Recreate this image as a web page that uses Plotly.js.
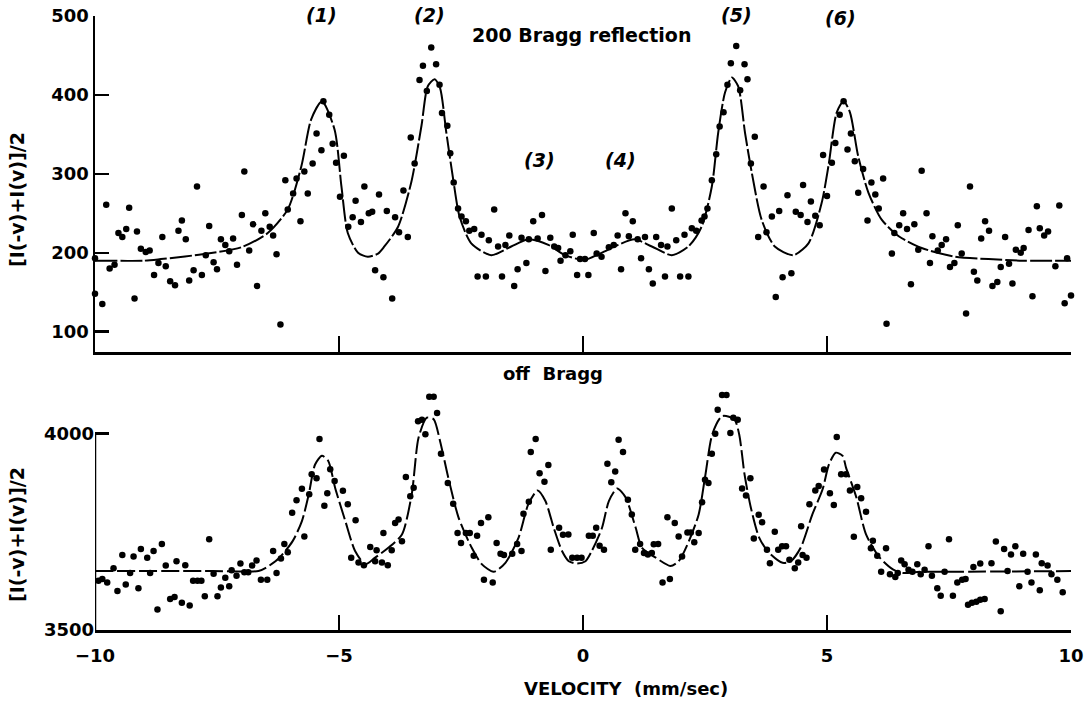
<!DOCTYPE html>
<html>
<head>
<meta charset="utf-8">
<script src="https://cdn.plot.ly/plotly-3.0.1.min.js"></script>
<style>html,body{margin:0;padding:0;background:#fff;}#chart{width:1090px;height:701px;}</style>
</head>
<body>
<div id="chart"></div>
<script>
// ---- Top panel: 200 Bragg reflection (measured points) ----
const braggVel = [-10.0,-10.0,-9.85,-9.77,-9.7,-9.6,-9.52,-9.44,-9.36,-9.3,-9.19,-9.14,-9.06,-8.96,-8.88,-8.79,-8.70,-8.62,-8.55,-8.46,-8.36,-8.29,-8.22,-8.14,-8.07,-7.98,-7.91,-7.81,-7.73,-7.66,-7.57,-7.50,-7.42,-7.33,-7.25,-7.17,-7.09,-6.99,-6.94,-6.84,-6.76,-6.68,-6.59,-6.51,-6.42,-6.35,-6.28,-6.20,-6.10,-6.05,-5.94,-5.87,-5.79,-5.71,-5.64,-5.54,-5.46,-5.36,-5.32,-5.20,-5.13,-5.06,-4.98,-4.90,-4.81,-4.72,-4.66,-4.55,-4.48,-4.39,-4.32,-4.26,-4.18,-4.09,-4.02,-3.91,-3.85,-3.77,-3.68,-3.59,-3.53,-3.45,-3.35,-3.28,-3.20,-3.11,-3.01,-2.94,-2.89,-2.78,-2.72,-2.65,-2.56,-2.49,-2.40,-2.33,-2.23,-2.16,-2.08,-1.99,-1.93,-1.82,-1.74,-1.66,-1.59,-1.51,-1.41,-1.34,-1.26,-1.16,-1.11,-1.02,-0.93,-0.84,-0.77,-0.67,-0.59,-0.51,-0.46,-0.36,-0.26,-0.21,-0.12,-0.06,0.04,0.11,0.22,0.28,0.38,0.53,0.63,0.71,0.78,0.87,0.94,1.02,1.12,1.19,1.27,1.35,1.43,1.50,1.60,1.68,1.73,1.82,1.91,1.99,2.08,2.16,2.23,2.32,2.43,2.49,2.55,2.64,2.73,2.80,2.88,2.96,3.03,3.14,3.22,3.31,3.37,3.44,3.52,3.59,3.70,3.76,3.87,3.95,4.02,4.09,4.19,4.27,4.36,4.46,4.51,4.60,4.67,4.76,4.85,4.92,5.00,5.10,5.17,5.26,5.34,5.42,5.49,5.57,5.64,5.74,5.83,5.91,5.99,6.06,6.15,6.22,6.33,6.38,6.48,6.56,6.64,6.72,6.79,6.87,6.94,7.04,7.11,7.16,7.27,7.35,7.44,7.52,7.61,7.68,7.76,7.85,7.93,8.01,8.08,8.16,8.24,8.32,8.39,8.49,8.56,8.65,8.73,8.80,8.87,8.97,9.03,9.13,9.21,9.30,9.36,9.45,9.53,9.68,9.76,9.87,9.92,10.0];
const braggCounts = [193,148,135,261,180,185,225,220,230,257,142,227,205,201,203,172,187,220,183,164,159,228,241,217,165,178,284,172,197,234,188,179,217,210,202,218,185,248,303,203,236,158,228,250,233,222,198,109,292,255,275,294,240,303,275,313,351,330,392,375,338,314,271,323,233,245,266,239,284,250,252,178,274,169,253,142,245,226,279,220,346,313,419,437,405,460,439,413,377,361,326,289,256,246,240,228,230,170,223,170,216,255,208,170,210,222,158,179,219,187,217,240,218,248,177,219,208,206,190,197,202,223,172,192,192,172,225,199,195,207,210,222,179,250,221,240,217,193,220,179,161,220,210,170,208,256,216,170,223,170,231,228,241,246,256,292,325,360,378,413,440,462,406,439,420,313,347,220,284,226,246,144,253,169,273,174,252,248,286,239,265,247,235,324,272,314,339,375,392,331,351,316,276,306,241,289,274,256,294,110,199,225,235,250,230,160,236,204,304,250,187,221,203,210,217,182,187,235,199,123,284,176,165,218,240,228,158,163,182,220,186,161,204,200,206,229,145,259,231,222,227,183,260,136,193,146];

// ---- Top panel: fitted curve ----
const braggFitVel = [-10,-9,-8.65,-7.69,-7.0,-6.46,-6.05,-5.77,-5.57,-5.35,-5.09,-4.95,-4.82,-4.61,-4.41,-4.2,-4.07,-3.79,-3.52,-3.31,-3.18,-3.04,-2.93,-2.80,-2.66,-2.53,-2.29,-1.88,-1.47,-1.12,-0.71,-0.37,0.03,0.38,0.72,1.06,1.41,1.82,2.16,2.43,2.64,2.77,2.91,3.05,3.18,3.32,3.46,3.66,3.93,4.31,4.62,4.89,5.03,5.20,5.34,5.47,5.64,5.85,6.12,6.47,6.94,7.63,8.31,9.01,10];
const braggFit = [190,190,192,199,207,225,255,310,369,392,356,284,225,200,195,199,208,233,289,361,411,420,409,352,293,246,212,197,208,217,210,197,191,200,210,217,208,197,208,233,284,352,403,422,411,352,301,242,208,197,212,263,310,378,392,378,322,276,242,221,206,195,192,190,190];

// ---- Bottom panel: off Bragg (measured points) ----
const offVel = [-10.03,-9.93,-9.85,-9.75,-9.62,-9.54,-9.44,-9.37,-9.28,-9.21,-9.11,-9.06,-8.93,-8.87,-8.80,-8.72,-8.63,-8.55,-8.46,-8.37,-8.33,-8.22,-8.15,-8.06,-7.99,-7.90,-7.82,-7.75,-7.66,-7.57,-7.49,-7.42,-7.33,-7.25,-7.20,-7.10,-7.02,-6.94,-6.86,-6.78,-6.69,-6.60,-6.47,-6.35,-6.28,-6.19,-6.12,-6.05,-5.96,-5.87,-5.76,-5.71,-5.61,-5.56,-5.46,-5.40,-5.30,-5.24,-5.18,-5.09,-4.92,-4.82,-4.75,-4.66,-4.60,-4.49,-4.36,-4.26,-4.23,-4.12,-4.09,-4.00,-3.92,-3.85,-3.78,-3.71,-3.63,-3.54,-3.47,-3.38,-3.30,-3.23,-3.15,-3.06,-2.99,-2.91,-2.77,-2.66,-2.57,-2.50,-2.40,-2.32,-2.24,-2.17,-2.09,-2.03,-1.94,-1.85,-1.77,-1.69,-1.62,-1.45,-1.35,-1.26,-1.22,-1.11,-1.07,-0.97,-0.89,-0.79,-0.71,-0.66,-0.49,-0.41,-0.30,-0.22,-0.12,-0.03,0.12,0.20,0.27,0.34,0.43,0.50,0.58,0.66,0.73,0.82,0.92,1.00,1.07,1.17,1.25,1.33,1.41,1.45,1.54,1.63,1.73,1.78,1.88,1.96,2.03,2.14,2.21,2.28,2.37,2.44,2.50,2.57,2.64,2.71,2.76,2.85,2.94,3.02,3.08,3.17,3.26,3.34,3.43,3.50,3.60,3.67,3.77,3.83,3.93,4.00,4.08,4.16,4.23,4.34,4.41,4.47,4.50,4.58,4.64,4.76,4.83,4.94,5.06,5.14,5.20,5.29,5.39,5.47,5.55,5.62,5.70,5.80,5.90,5.94,6.03,6.11,6.21,6.29,6.40,6.45,6.52,6.59,6.67,6.75,6.85,6.92,7.00,7.08,7.15,7.26,7.33,7.41,7.50,7.58,7.67,7.77,7.84,7.89,7.97,8.00,8.06,8.14,8.14,8.23,8.37,8.46,8.56,8.63,8.70,8.77,8.86,8.94,9.02,9.11,9.19,9.28,9.36,9.40,9.52,9.60,9.72,9.83];
const offCounts = [3593,3625,3630,3621,3657,3599,3691,3616,3645,3687,3606,3706,3684,3645,3701,3552,3719,3664,3579,3584,3675,3569,3665,3562,3625,3625,3625,3586,3731,3643,3586,3608,3633,3611,3652,3638,3669,3647,3647,3664,3677,3628,3628,3701,3645,3682,3719,3698,3798,3830,3859,3738,3845,3896,3886,3986,3816,3848,3909,3879,3854,3820,3684,3779,3672,3665,3711,3675,3703,3672,3747,3665,3703,3772,3781,3726,3889,3840,3862,4031,4035,3998,4093,4093,4052,3948,3874,3821,3747,3721,3747,3747,3689,3740,3772,3628,3787,3621,3721,3694,3691,3694,3719,3701,3796,3826,3953,3986,3899,3877,3920,3704,3760,3742,3743,3684,3684,3684,3740,3740,3760,3714,3704,3923,3876,3903,3984,3953,3831,3794,3704,3719,3696,3692,3696,3718,3719,3621,3787,3630,3772,3738,3687,3748,3748,3723,3747,3825,3882,3874,3948,3999,4060,4098,4098,4001,4040,4035,3860,3842,3886,3733,3793,3774,3704,3670,3750,3704,3713,3713,3679,3657,3672,3764,3691,3684,3820,3855,3866,3908,3848,3818,3991,3896,3896,3855,3737,3864,3835,3801,3708,3727,3689,3648,3708,3642,3635,3645,3677,3667,3653,3648,3667,3642,3653,3713,3638,3606,3587,3648,3731,3587,3621,3628,3630,3564,3569,3660,3572,3577,3669,3579,3670,3725,3548,3706,3650,3692,3713,3611,3694,3648,3621,3692,3601,3670,3664,3642,3628,3596];

// ---- Bottom panel: fitted curve ----
const offFitVel = [-10,-7.6,-6.65,-6.5,-6.22,-5.95,-5.76,-5.62,-5.49,-5.35,-5.22,-5.08,-4.87,-4.67,-4.46,-4.26,-3.99,-3.71,-3.51,-3.37,-3.20,-3.06,-2.93,-2.76,-2.55,-2.28,-2.07,-1.83,-1.59,-1.32,-1.12,-0.93,-0.77,-0.60,-0.43,-0.29,-0.12,0.05,0.18,0.39,0.53,0.70,0.87,1.08,1.21,1.49,1.79,1.96,2.17,2.37,2.51,2.65,2.85,3.10,3.20,3.31,3.44,3.61,3.81,4.09,4.26,4.46,4.70,4.91,5.04,5.18,5.32,5.39,5.60,5.80,6.08,6.35,6.56,6.90,7.58,10];
const offFit = [3650,3650,3650,3658,3684,3726,3777,3845,3921,3943,3930,3862,3777,3701,3667,3684,3709,3743,3845,3989,4040,4036,3981,3887,3786,3709,3667,3648,3671,3735,3820,3855,3828,3760,3701,3675,3669,3675,3701,3760,3828,3860,3838,3760,3709,3684,3663,3675,3726,3794,3896,3998,4044,4036,3998,3896,3811,3735,3697,3671,3675,3709,3794,3858,3921,3951,3943,3913,3838,3743,3684,3654,3645,3648,3648,3650];

// ---- Ticks / labels ----
const topTicks = [100, 200, 300, 400, 500];
const bottomTicks = [3500, 4000];
const velTicks = [-10, -5, 0, 5, 10];
const peakLabels = ['(1)', '(2)', '(3)', '(4)', '(5)', '(6)'];
const peakLabelVel = [-5.35, -3.15, -0.89, 0.77, 3.15, 5.28];

const FONT = 'DejaVu Sans, Liberation Sans, sans-serif';
// paper-fraction helpers (plot area: x 95..1071 px, y 16..630 px)
const PX = px => (px - 95) / 976;
const PY = py => (630 - py) / 614;

const traces = [
  {x: braggFitVel, y: braggFit, xaxis: 'x2', yaxis: 'y2', mode: 'lines', type: 'scatter',
   line: {color: '#000', width: 2, shape: 'spline', smoothing: 0.7, dash: '22px,3px'}, hoverinfo: 'skip'},
  {x: braggVel, y: braggCounts, xaxis: 'x2', yaxis: 'y2', mode: 'markers', type: 'scatter',
   marker: {color: '#000', size: 6.5}, cliponaxis: false},
  {x: offFitVel, y: offFit, xaxis: 'x', yaxis: 'y', mode: 'lines', type: 'scatter',
   line: {color: '#000', width: 2, shape: 'spline', smoothing: 0.7, dash: '18px,4px'}, hoverinfo: 'skip'},
  {x: offVel, y: offCounts, xaxis: 'x', yaxis: 'y', mode: 'markers', type: 'scatter',
   marker: {color: '#000', size: 6.5}, cliponaxis: false}
];

const peakYpx = [15, 15, 160, 160, 15, 18];
const annotations = peakLabels.map((t, i) => ({
  text: '<i>' + t + '</i>', x: peakLabelVel[i], xref: 'x2', y: PY(peakYpx[i]), yref: 'paper',
  showarrow: false, font: {family: FONT, size: 19, color: '#000', weight: 'bold'}, xanchor: 'center', yanchor: 'middle'
}));
annotations.push(
  {text: '200 Bragg reflection', x: PX(581), xref: 'paper', y: PY(35), yref: 'paper', showarrow: false,
   font: {family: FONT, size: 19, color: '#000', weight: 'bold'}, xanchor: 'center', yanchor: 'middle'},
  {text: 'off  Bragg', x: PX(553), xref: 'paper', y: PY(373), yref: 'paper', showarrow: false,
   font: {family: FONT, size: 18, color: '#000', weight: 'bold'}, xanchor: 'center', yanchor: 'middle'},
  {text: 'VELOCITY  (mm/sec)', x: PX(626), xref: 'paper', y: PY(688), yref: 'paper', showarrow: false,
   font: {family: FONT, size: 18, color: '#000', weight: 'bold'}, xanchor: 'center', yanchor: 'middle'},
  {text: '[I(-v)+I(v)]/2', x: PX(17), xref: 'paper', y: PY(200), yref: 'paper', showarrow: false, textangle: -90,
   font: {family: FONT, size: 19, color: '#000', weight: 'bold'}, xanchor: 'center', yanchor: 'middle'},
  {text: '[I(-v)+I(v)]/2', x: PX(17), xref: 'paper', y: PY(535), yref: 'paper', showarrow: false, textangle: -90,
   font: {family: FONT, size: 19, color: '#000', weight: 'bold'}, xanchor: 'center', yanchor: 'middle'}
);

const axBase = {showgrid: false, zeroline: false, linecolor: '#000', linewidth: 2.5,
  ticks: 'inside', tickcolor: '#000', tickwidth: 2.5,
  tickfont: {family: FONT, size: 18, color: '#000', weight: 'bold'}};

const layout = {
  width: 1090, height: 701,
  margin: {l: 95, r: 19, t: 16, b: 71},
  paper_bgcolor: '#fff', plot_bgcolor: '#fff',
  showlegend: false,
  font: {family: FONT, color: '#000'},
  xaxis2: Object.assign({}, axBase, {domain: [0, 1], anchor: 'y2', range: [-10, 10], showline: true,
    tickvals: [-5, 0, 5, 10], ticklen: 16, showticklabels: false}),
  yaxis2: Object.assign({}, axBase, {domain: [PY(352), 1], anchor: 'x2', range: [74.3, 500], showline: true,
    tickvals: topTicks, ticklen: 14}),
  xaxis: Object.assign({}, axBase, {domain: [0, 1], anchor: 'y', range: [-10, 10], showline: true,
    tickvals: velTicks, ticklen: 15, ticklabelstandoff: 8}),
  yaxis: Object.assign({}, axBase, {domain: [0, PY(389)], anchor: 'x', range: [3500, 4113], showline: false,
    tickvals: bottomTicks, ticklen: 14}),
  shapes: [
    {type: 'line', xref: 'x', yref: 'y', x0: -10, x1: -10, y0: 3500, y1: 4000, line: {color: '#000', width: 2.5}}
  ],
  annotations: annotations
};

Plotly.newPlot('chart', traces, layout, {staticPlot: true, displayModeBar: false});
</script>
</body>
</html>
